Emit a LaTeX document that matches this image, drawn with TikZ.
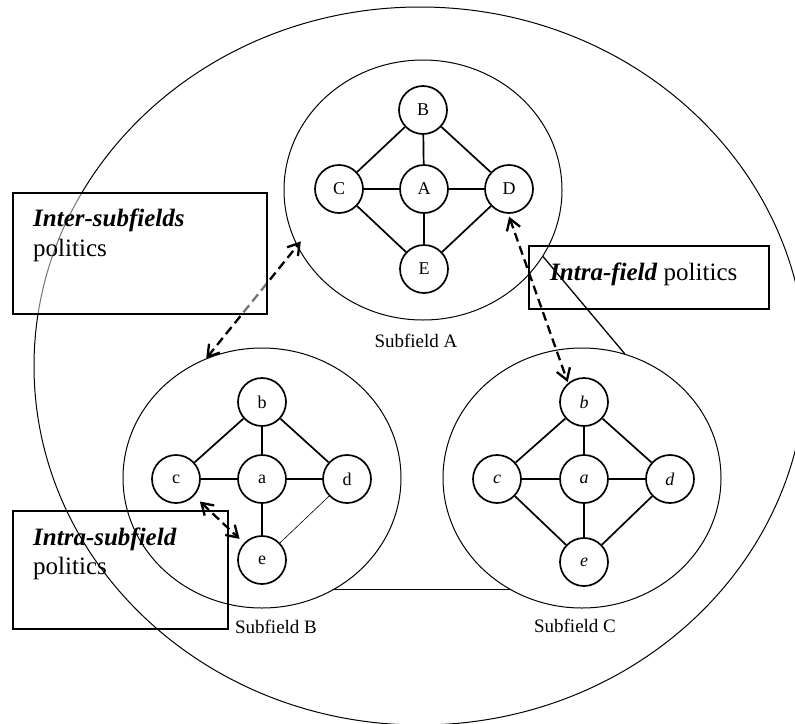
\documentclass[tikz,border=0pt]{standalone}
\usepackage{fontspec}
\setmainfont{Liberation Serif}
\usetikzlibrary{arrows.meta,shapes.geometric}
\begin{document}
\begin{tikzpicture}[x=1pt,y=-1pt,
  vert/.style={circle,draw,line width=1.7pt,minimum size=48pt,inner sep=0pt,font=\fontsize{18}{18}\selectfont},
  edge/.style={line width=1.7pt},
  thinedge/.style={line width=0.6pt},
  field/.style={ellipse,draw,line width=1pt,minimum width=278pt,minimum height=260pt,inner sep=0pt},
  flabel/.style={anchor=base,inner sep=0pt,font=\fontsize{19}{19}\selectfont},
  dasharr/.style={line width=2.3pt,dash pattern=on 9pt off 5pt,{Straight Barb[length=11pt,width=14pt]}-{Straight Barb[length=11pt,width=14pt]}},
  polbox/.style={draw,line width=2.8pt,inner sep=0pt},
  boxtext/.style={anchor=base west,inner sep=0pt,font=\fontsize{25}{30}\selectfont}]
\useasboundingbox (0,0) rectangle (795,723);
% outer field
\node[ellipse,draw,line width=1pt,minimum width=772pt,minimum height=718pt,inner sep=0pt] (F) at (420,366) {};
% subfields
\node[field] (SA) at (423,190) {};
\node[field] (SB) at (262,478) {};
\node[field] (SC) at (582,478) {};
\node[flabel] (LA) at (416,347) {Subfield A};
\node[flabel] (LB) at (276,633) {Subfield B};
\node[flabel] (LC) at (575,632) {Subfield C};
% Subfield A
\node[vert] (AB) at (423,110) {B};
\node[vert] (AC) at (339,189) {C};
\node[vert] (AA) at (424,189) {A};
\node[vert] (AD) at (509,189) {D};
\node[vert] (AE) at (424,269) {E};
\draw[edge] (AB) -- (AC);
\draw[edge] (AB) -- (AA);
\draw[edge] (AB) -- (AD);
\draw[edge] (AC) -- (AA);
\draw[edge] (AA) -- (AD);
\draw[edge] (AA) -- (AE);
\draw[edge] (AC) -- (AE);
\draw[edge] (AD) -- (AE);
% Subfield B
\node[vert] (Bb) at (262,402) {b};
\node[vert] (Bc) at (176,479) {c};
\node[vert] (Ba) at (262,479) {a};
\node[vert] (Bd) at (347,479) {d};
\node[vert] (Be) at (262,560) {e};
\draw[edge] (Bb) -- (Bc);
\draw[edge] (Bb) -- (Ba);
\draw[edge] (Bb) -- (Bd);
\draw[edge] (Bc) -- (Ba);
\draw[edge] (Ba) -- (Bd);
\draw[edge] (Ba) -- (Be);
\draw[thinedge] (Bd) -- (Be);
% Subfield C
\node[vert] (Cb) at (584,402) {\textit{b}};
\node[vert] (Cc) at (497,479) {\textit{c}};
\node[vert] (Ca) at (584,479) {\textit{a}};
\node[vert] (Cd) at (670,479) {\textit{d}};
\node[vert] (Ce) at (584,562) {\textit{e}};
\draw[edge] (Cb) -- (Cc);
\draw[edge] (Cb) -- (Ca);
\draw[edge] (Cb) -- (Cd);
\draw[edge] (Cc) -- (Ca);
\draw[edge] (Ca) -- (Cd);
\draw[edge] (Ca) -- (Ce);
\draw[edge] (Cc) -- (Ce);
\draw[edge] (Cd) -- (Ce);
% links between subfields
\draw[line width=1.3pt] (SA.-29) -- (SC.71);
\draw[line width=1.5pt] (SB.-57) -- (SC.-123);
% politics arrows
\draw[dasharr,shorten >=-6pt] (SB.115) -- (SA.204);
\draw[dasharr,shorten <=3pt,shorten >=1pt] (AD.-92) -- (Cb.130);
\draw[dasharr,shorten <=8pt,shorten >=6pt] (Bc) -- (Be);
% boxes
\node[polbox,fill=white,fill opacity=0.45,minimum width=254pt,minimum height=121pt] (BX1) at (140,253.5) {};
\node[polbox,minimum width=215pt,minimum height=118pt] (BX2) at (120.5,570) {};
\node[polbox,minimum width=240pt,minimum height=63pt] (BX3) at (649,277.5) {};
\node[boxtext] (T1a) at (33,226) {\textbf{\textit{Inter-subfields}}};
\node[boxtext] (T1b) at (33,256) {politics};
\node[boxtext] (T2a) at (33,545) {\textbf{\textit{Intra-subfield}}};
\node[boxtext] (T2b) at (33,574) {politics};
\node[boxtext] (T3) at (550,280) {\textbf{\textit{Intra-field}} politics};
\end{tikzpicture}
\end{document}
